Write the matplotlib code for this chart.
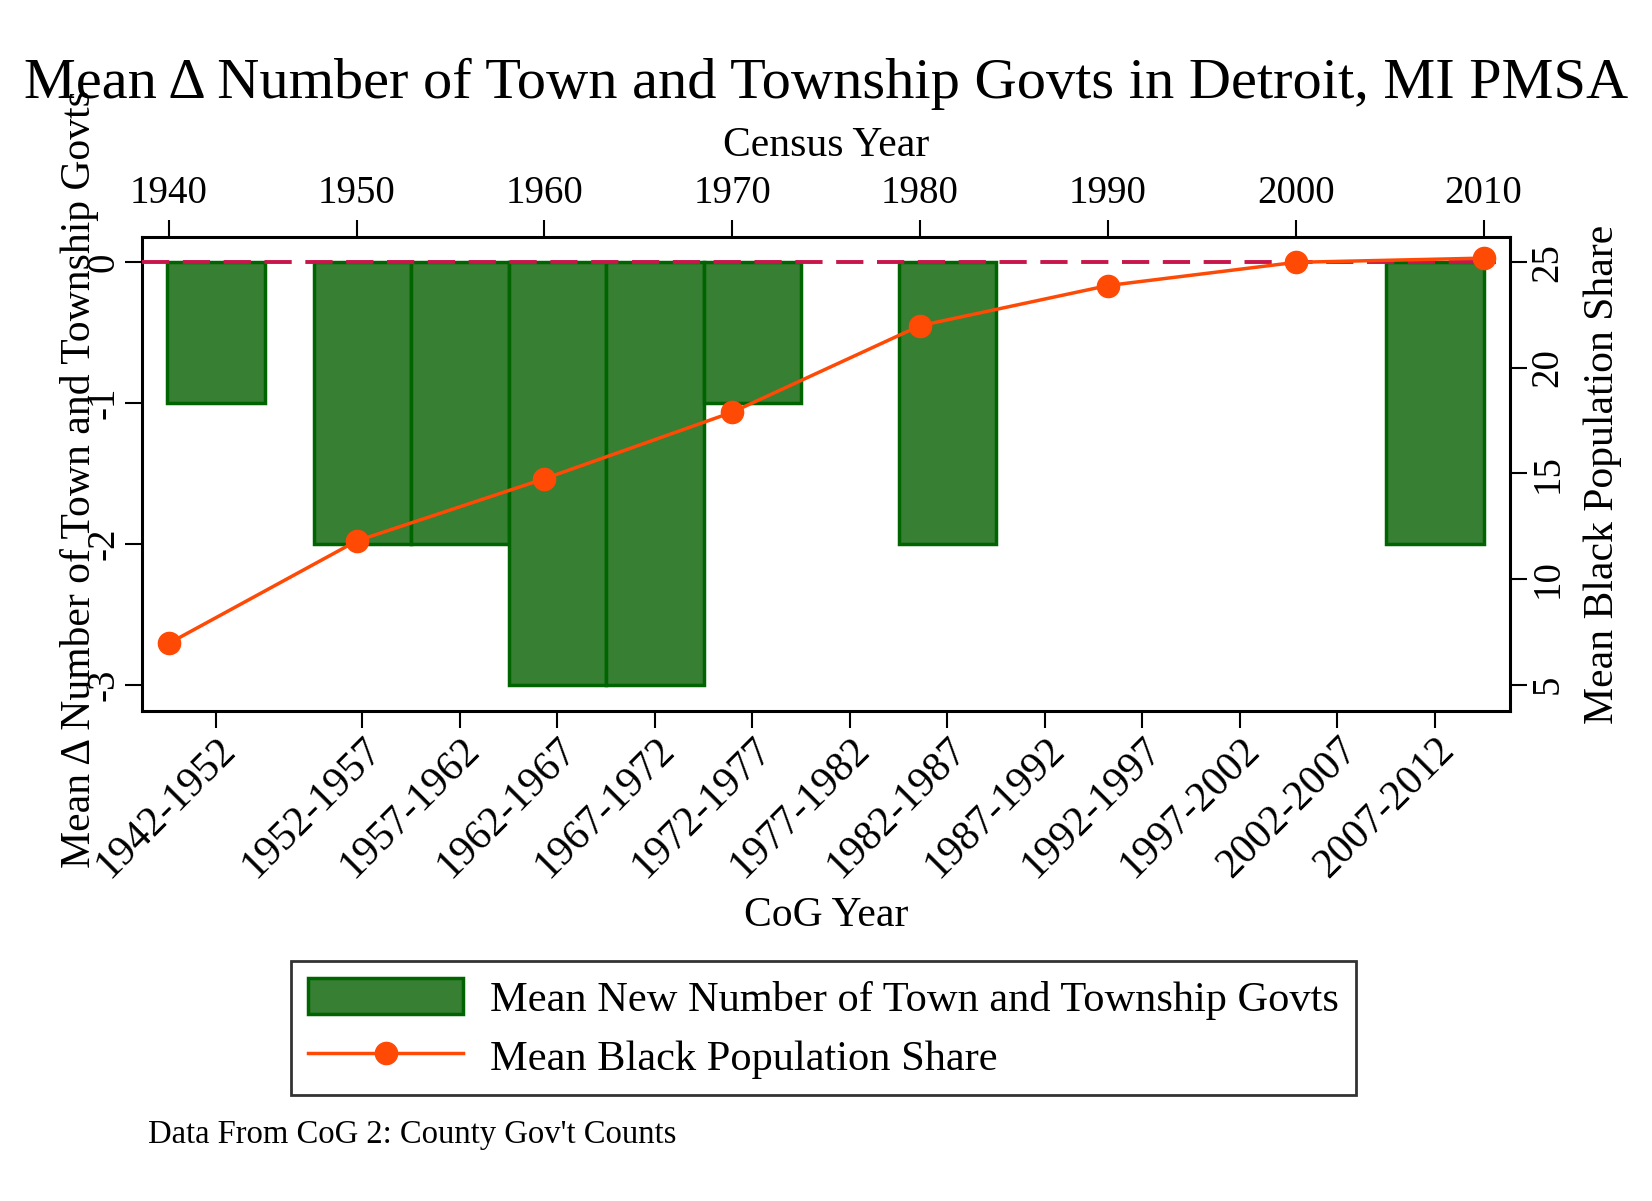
import numpy as np
import matplotlib
matplotlib.use('Agg')
import matplotlib.pyplot as plt
from matplotlib.patches import Patch
from matplotlib.lines import Line2D

plt.rcParams['font.family'] = ['Liberation Serif', 'DejaVu Serif']

# --- Data ---
cog_periods = ['1942-1952', '1952-1957', '1957-1962', '1962-1967', '1967-1972',
               '1972-1977', '1977-1982', '1982-1987', '1987-1992', '1992-1997',
               '1997-2002', '2002-2007', '2007-2012']
mean_new_govts = [-1, -2, -2, -3, -3, -1, 0, -2, 0, 0, 0, 0, -2]

census_years = [1940, 1950, 1960, 1970, 1980, 1990, 2000, 2010]
black_share = [6.95, 11.8, 14.75, 17.9, 22.0, 23.9, 25.0, 25.2]

# --- Colours ---
bar_fill = '#367f33'
bar_edge = '#006400'
line_col = '#ff4a06'
zero_col = '#c8164a'

# bottom axis: first category sits a half-slot further left
pos = np.arange(len(cog_periods)) + 0.5 * (np.arange(len(cog_periods)) > 0)
# zero bars get no outline (Stata draws nothing for them)
edge_w = [0 if v == 0 else 2.5 for v in mean_new_govts]

fig = plt.figure(figsize=(16.52, 12.01), dpi=100)
rect = [142 / 1652, 1 - 711 / 1201, (1510 - 142) / 1652, (711 - 237) / 1201]
ax = fig.add_axes(rect)

ax.bar(pos, mean_new_govts, width=1.0, color=bar_fill, edgecolor=bar_edge,
       linewidth=edge_w, zorder=2)
ax.axhline(0, xmin=0, xmax=0.99, color=zero_col, linestyle=(0, (7, 3.5)),
           linewidth=2.8, zorder=3)
ax.set_xlim(-0.76, 13.27)
ax.set_ylim(-3.187, 0.18)
ax.set_xticks(pos)
ax.set_xticklabels(cog_periods, rotation=45, ha='right', va='top',
                   rotation_mode='anchor', fontsize=30)
ax.set_yticks([0, -1, -2, -3])
ax.set_yticklabels(['0', '-1', '-2', '-3'], rotation=90, va='center', fontsize=28)
ax.tick_params(axis='both', length=12, width=1.5, pad=2)
ax.tick_params(axis='y', pad=2)
ax.set_xlabel('CoG Year', fontsize=30, labelpad=8)
ax.set_ylabel('Mean \u0394 Number of Town and Township Govts', fontsize=30)
ax.yaxis.set_label_coords(-0.0316, 0.49)
for s in ax.spines.values():
    s.set_linewidth(2.2)

# --- Line on its own axes: census years on top, share on the right ---
ax2 = fig.add_axes(rect, frame_on=False)
ax2.plot(census_years, black_share, color=line_col, linewidth=2.5,
         marker='o', markersize=16, zorder=3)
ax2.set_xlim(1938.58, 2011.41)
ax2.set_ylim(3.75, 26.2)
ax2.xaxis.tick_top()
ax2.xaxis.set_label_position('top')
ax2.yaxis.tick_right()
ax2.yaxis.set_label_position('right')
ax2.set_xticks(census_years)
ax2.set_xticklabels([str(y) for y in census_years], fontsize=28)
ax2.set_yticks([5, 10, 15, 20, 25])
ax2.set_yticklabels(['5', '10', '15', '20', '25'], rotation=90, va='center',
                    fontsize=28)
ax2.tick_params(axis='both', length=12, width=1.5)
ax2.tick_params(axis='x', pad=6)
ax2.tick_params(axis='y', pad=2)
ax2.set_xlabel('Census Year', fontsize=30, labelpad=14)
ax2.set_ylabel('Mean Black Population Share', fontsize=30)
ax2.yaxis.set_label_coords(1.054, 0.5)

fig.suptitle('Mean \u0394 Number of Town and Township Govts in Detroit, MI PMSA',
             fontsize=42, x=0.5, y=0.952)

# --- Legend ---
handles = [Patch(facecolor=bar_fill, edgecolor=bar_edge, linewidth=2.5),
           Line2D([], [], color=line_col, linewidth=2.5, marker='o', markersize=16)]
labels = ['Mean New Number of Town and Township Govts', 'Mean Black Population Share']
leg = fig.legend(handles, labels, loc='upper center',
                 bbox_to_anchor=(0.4985, 1 - 961 / 1201), borderaxespad=0,
                 fontsize=30.5, frameon=True, fancybox=False, edgecolor='black',
                 handlelength=3.66, handleheight=0.95, handletextpad=0.63,
                 borderpad=0.4, labelspacing=0.4)
leg.get_frame().set_linewidth(2)

fig.text(148 / 1652, 1 - 1135 / 1201, "Data From CoG 2: County Gov't Counts",
         fontsize=23.5, va='center', ha='left')

fig.savefig('out.png', dpi=100)
